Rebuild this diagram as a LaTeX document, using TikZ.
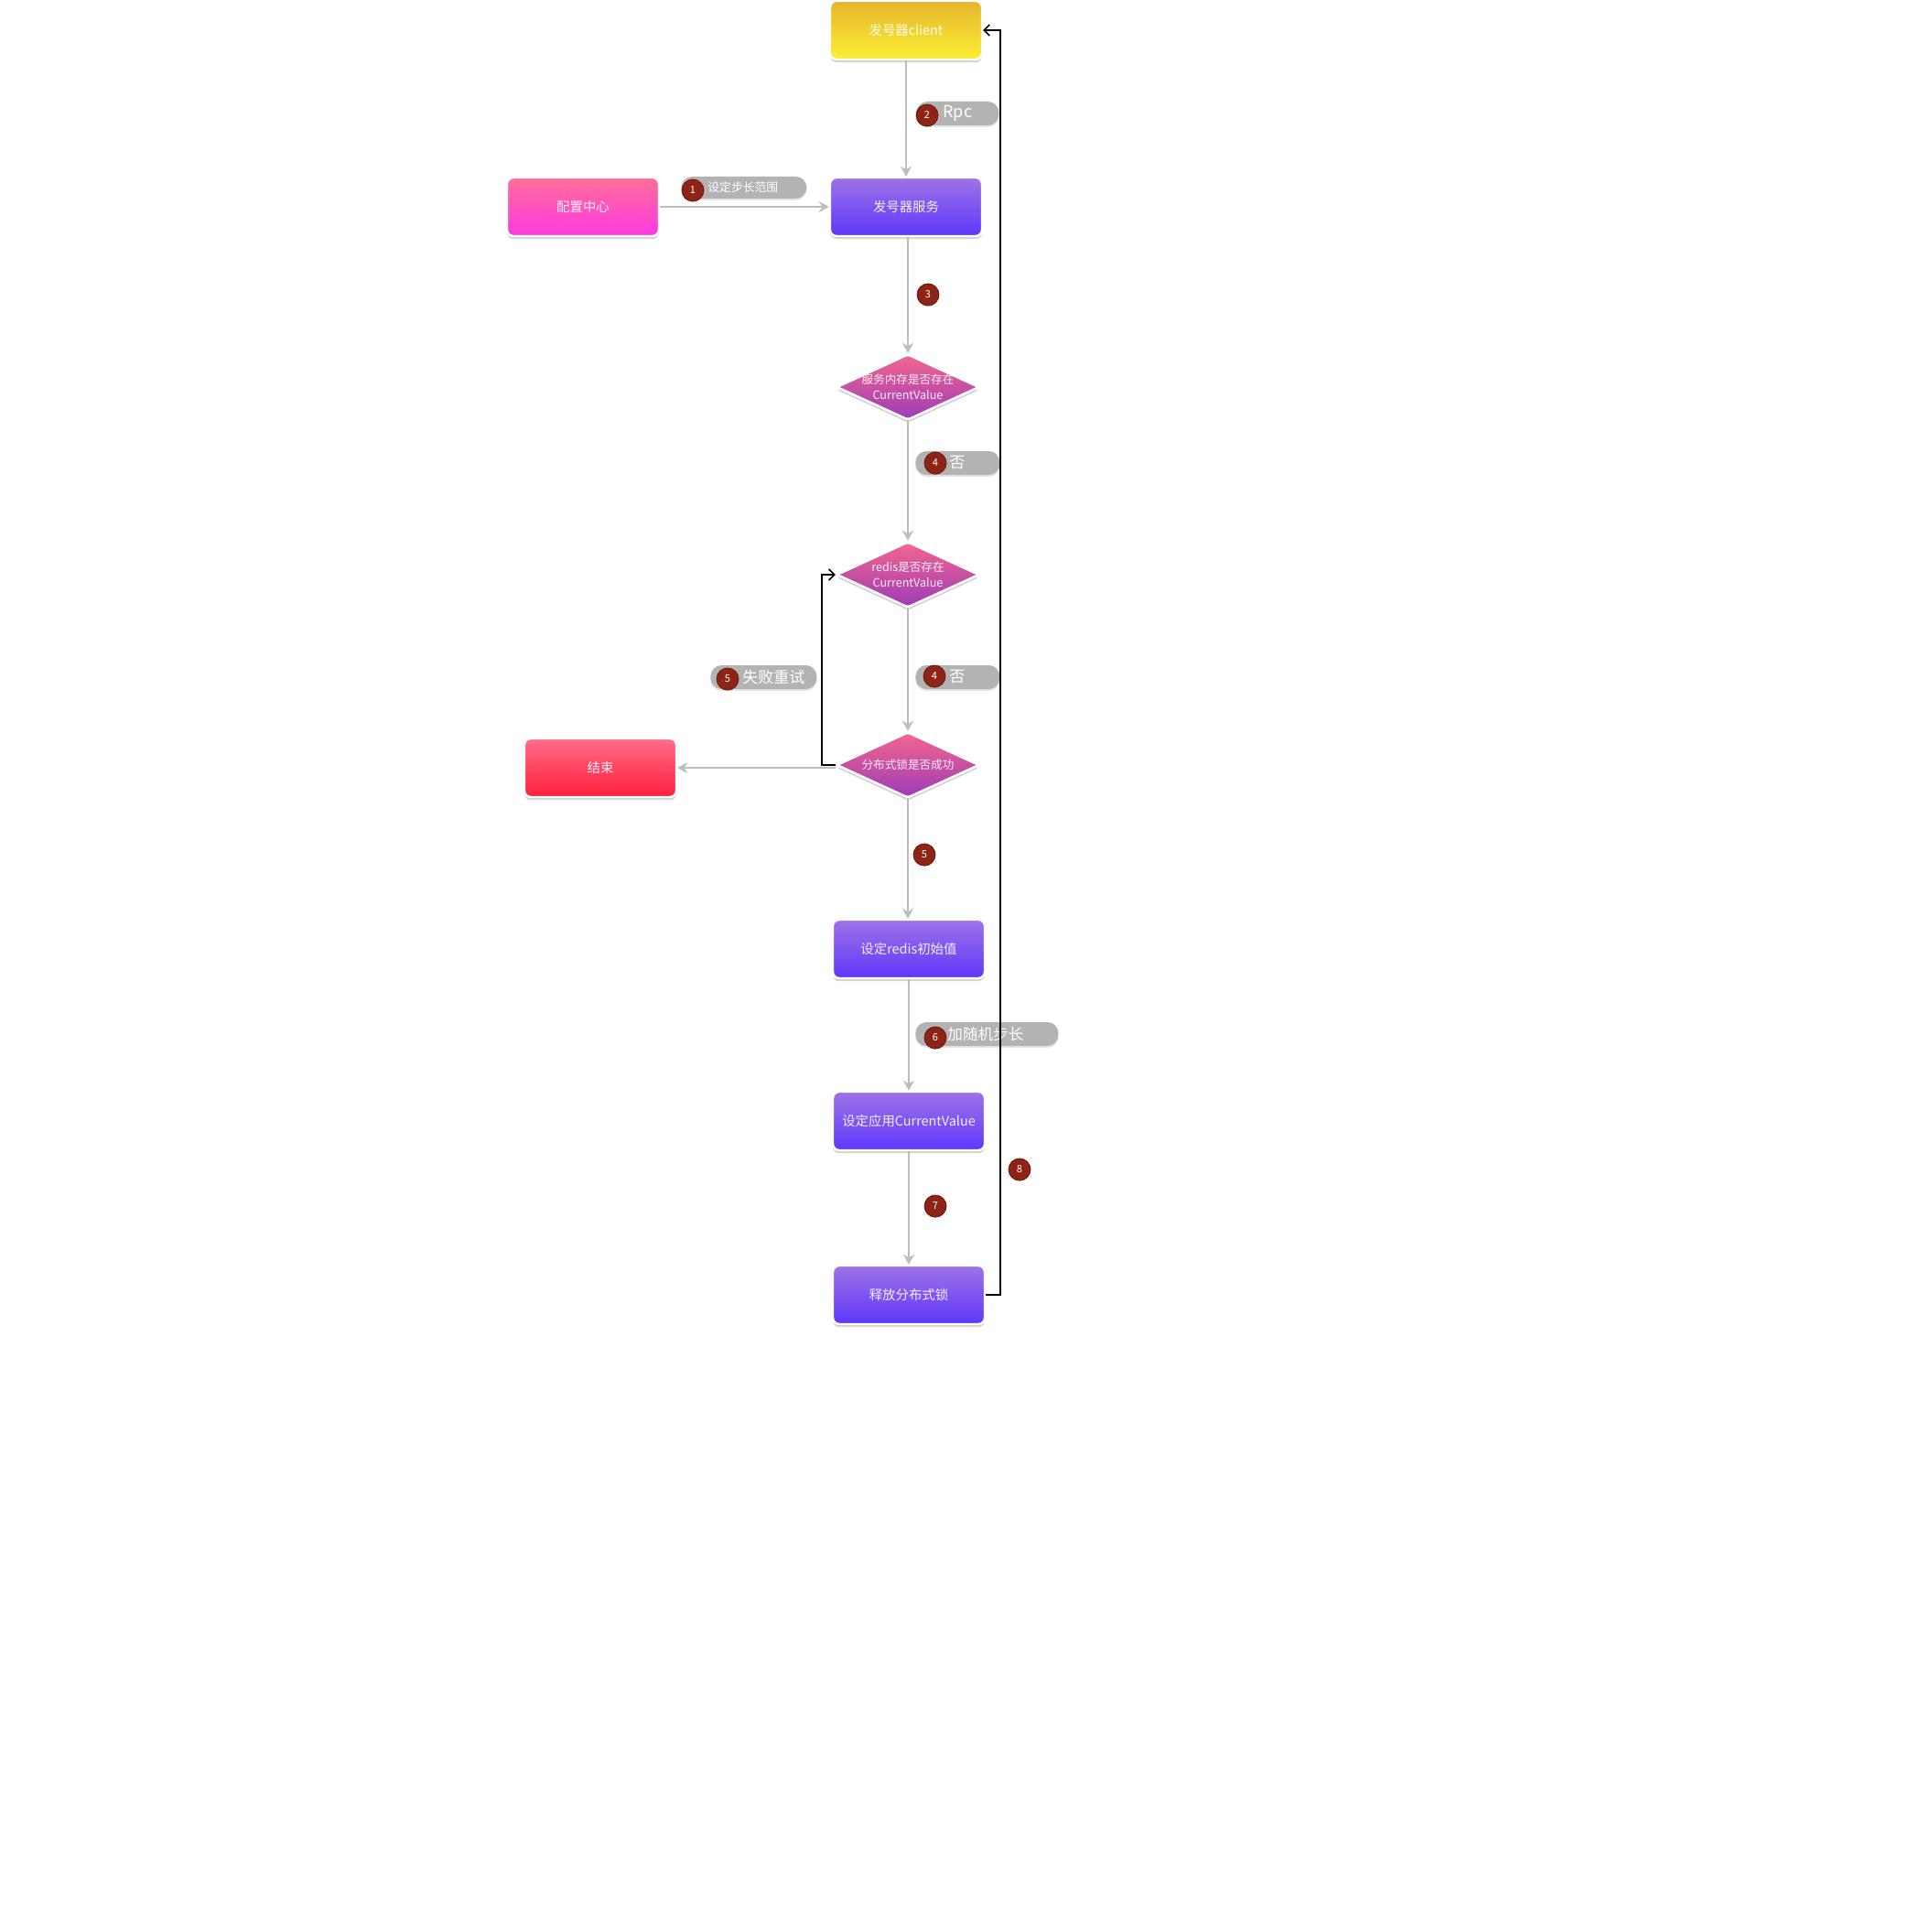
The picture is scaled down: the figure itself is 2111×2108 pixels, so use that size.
\documentclass[tikz,border=0pt]{standalone}
\usepackage{fontspec}
\setmainfont{Noto Sans CJK SC}
\usetikzlibrary{shapes.geometric,shadows,arrows.meta}
\definecolor{ytop}{HTML}{E4B52E}
\definecolor{ybot}{HTML}{FCEF33}
\definecolor{ptop}{HTML}{9F73E6}
\definecolor{pbot}{HTML}{5D37FA}
\definecolor{mtop}{HTML}{FF6E97}
\definecolor{mbot}{HTML}{FF39E2}
\definecolor{rtop}{HTML}{FF6C88}
\definecolor{rbot}{HTML}{FF1E3E}
\definecolor{dtop}{HTML}{F3668E}
\definecolor{dbot}{HTML}{9E3BB8}
\definecolor{pillgray}{HTML}{B3B3B3}
\definecolor{badgered}{HTML}{8E2415}
\definecolor{badgeedge}{HTML}{6A170C}
\definecolor{linegray}{HTML}{BDBDBD}
\begin{document}
\begin{tikzpicture}[x=0.5pt,y=-0.5pt,
  box/.style={rectangle, rounded corners=3.5pt, minimum width=83pt, minimum height=32pt,
    inner sep=0pt, draw=white, line width=1.2pt, text=white, text opacity=0.9,
    font=\fontsize{7.2}{8.5}\selectfont,
    drop shadow={shadow xshift=0pt, shadow yshift=-1.6pt, opacity=0.35}},
  yellowbox/.style={box, top color=ytop, bottom color=ybot},
  purplebox/.style={box, top color=ptop, bottom color=pbot},
  magentabox/.style={box, top color=mtop, bottom color=mbot},
  redbox/.style={box, top color=rtop, bottom color=rbot},
  dia/.style={diamond, minimum width=78pt, minimum height=36pt, inner sep=0pt,
    draw=white, line width=1.2pt, rounded corners=1.5pt,
    top color=dtop, bottom color=dbot,
    drop shadow={shadow xshift=0pt, shadow yshift=-1.6pt, opacity=0.35}},
  diatext/.style={text=white, text opacity=0.9, align=center, inner sep=0pt,
    font=\fontsize{6.3}{8.3}\selectfont},
  pill/.style={rectangle, rounded corners=6pt, fill=pillgray, text=white,
    inner xsep=0pt, inner ysep=0pt, align=left, anchor=west,
    drop shadow={shadow xshift=0pt, shadow yshift=-1pt, opacity=0.2}},
  badge/.style={circle, fill=badgered, draw=badgeedge, line width=0.4pt,
    minimum size=12pt, inner sep=0pt, text=white,
    font=\fontsize{5.5}{6}\selectfont,
    drop shadow={shadow xshift=0pt, shadow yshift=-0.6pt, opacity=0.25}},
  garrow/.style={draw=linegray, line width=1.4pt, -{Stealth[length=5.5pt,width=6pt]}},
  barrow/.style={draw=black, line width=0.8pt, -{Straight Barb[length=3pt,width=6pt]}}
]
\useasboundingbox[fill=white] (0,0) rectangle (2111,2108);

% boxes
\node[yellowbox] (client) at (990,33) {发号器client};
\node[purplebox] (svc) at (990,226) {发号器服务};
\node[magentabox] (cfg) at (637,226) {配置中心};
\node[dia, label={[diatext]center:{服务内存是否存在\\CurrentValue}}] (d1) at (992,423) {};
\node[dia, label={[diatext]center:{redis是否存在\\CurrentValue}}] (d2) at (992,628) {};
\node[dia, label={[diatext]center:{分布式锁是否成功}}] (d3) at (992,836) {};
\node[redbox] (end) at (656,839) {结束};
\node[purplebox] (init) at (993,1037) {设定redis初始值};
\node[purplebox] (setcv) at (993,1225) {设定应用CurrentValue};
\node[purplebox] (rel) at (993,1415) {释放分布式锁};

% gray connectors
\draw[garrow] (client.south) -- (svc.north);
\draw[garrow] (cfg.east) -- (svc.west);
\draw[garrow] (d1.north |- svc.south) -- (d1.north);
\draw[garrow] (d1.south) -- (d2.north);
\draw[garrow] (d2.south) -- (d3.north);
\draw[garrow] ([yshift=-1.5pt]d3.west) -- (end.east);
\draw[garrow] (d3.south) -- (d3.south |- init.north);
\draw[garrow] (init.south) -- (setcv.north);
\draw[garrow] (setcv.south) -- (rel.north);

% pill labels
\node[pill, text width=68.5pt, minimum height=12pt, font=\fontsize{6.4}{7}\selectfont] (p1) at (744,205) {\hspace*{14.5pt}设定步长范围};
\node[pill, text width=45pt, minimum height=13pt, font=\fontsize{9}{10}\selectfont] (p2) at (1001,124) {\hspace*{14.5pt}Rpc};
\node[pill, text width=46pt, minimum height=13pt, font=\fontsize{8.5}{9.5}\selectfont] (p4a) at (1000,506) {\hspace*{18.5pt}否};
\node[pill, text width=46pt, minimum height=13pt, font=\fontsize{8.5}{9.5}\selectfont] (p4b) at (1000,740) {\hspace*{18.5pt}否};
\node[pill, text width=58pt, minimum height=13pt, font=\fontsize{8.5}{9.5}\selectfont] (p5) at (776,740) {\hspace*{17.5pt}失败重试};
\node[pill, text width=78pt, minimum height=13pt, font=\fontsize{8.3}{9.5}\selectfont] (p6) at (1000,1130) {\hspace*{17.5pt}加随机步长};

% badges
\node[badge] (b1) at (757,208) {1};
\node[badge] (b2) at (1013,126) {2};
\node[badge] (b3) at (1014,322) {3};
\node[badge] (b4a) at (1022,506) {4};
\node[badge] (b4b) at (1021,739) {4};
\node[badge] (b5a) at (795,742) {5};
\node[badge] (b5b) at (1010,934) {5};
\node[badge] (b6) at (1022,1134) {6};
\node[badge] (b7) at (1022,1318) {7};
\node[badge] (b8) at (1114,1278) {8};

% black connectors
\draw[barrow] (d3.west) -- ++(-15,0) |- (d2.west);
\draw[barrow] (rel.east) -- ++(16,0) |- (client.east);
\end{tikzpicture}
\end{document}
